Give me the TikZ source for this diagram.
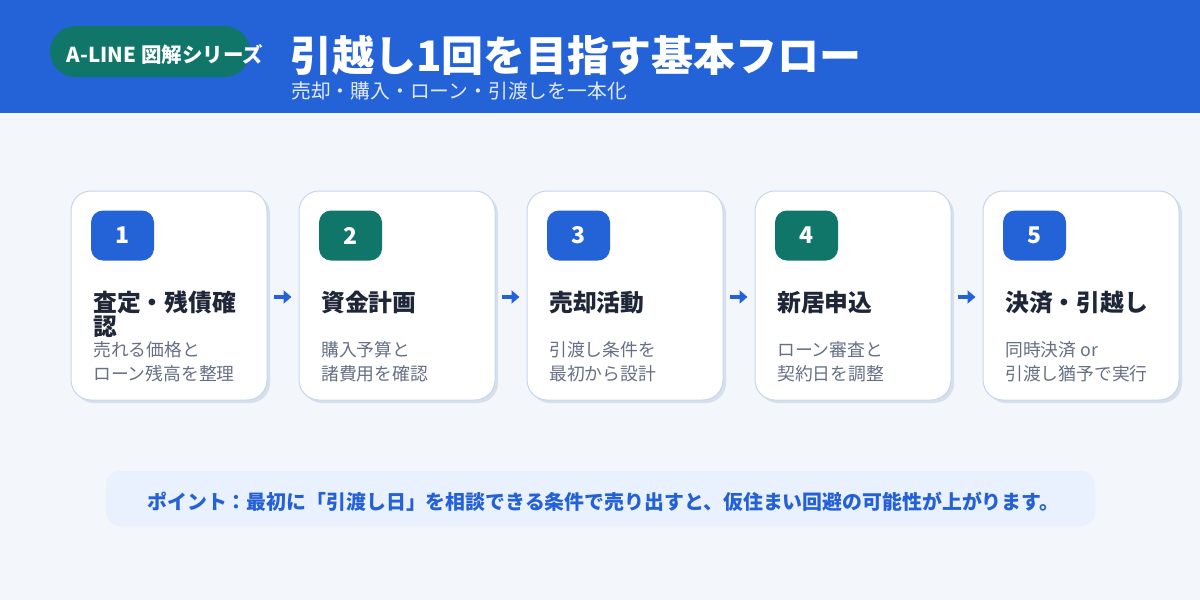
\documentclass[tikz,border=0pt]{standalone}
\usepackage{fontspec}
\setmainfont{Noto Sans CJK JP}
\usetikzlibrary{arrows.meta}
\definecolor{hdr}{HTML}{2462D8}
\definecolor{teal}{HTML}{10766A}
\definecolor{bgc}{HTML}{F3F6FB}
\definecolor{cardline}{HTML}{C9D6EA}
\definecolor{shadowc}{HTML}{D6DFEC}
\definecolor{darktxt}{HTML}{1E2638}
\definecolor{graytxt}{HTML}{667085}
\definecolor{subtxt}{HTML}{E3EBFB}
\definecolor{notefill}{HTML}{E8F1FD}
\definecolor{notetxt}{HTML}{2460D6}
\newcommand{\fsz}[2]{\fontsize{#1}{#2}\selectfont}
\begin{document}
\begin{tikzpicture}[x=1pt,y=-1pt,
  card/.style={draw=cardline, line width=1pt, fill=white, rounded corners=20pt, minimum width=196pt, minimum height=209pt, inner sep=0pt},
  cshadow/.style={fill=shadowc, rounded corners=20pt},
  numbadge/.style={rounded corners=12pt, minimum width=63pt, minimum height=50pt, inner sep=0pt, text=white, font=\fsz{23}{26}\bfseries},
  ctitle/.style={anchor=base west, inner sep=0pt, align=left, text=darktxt, font=\fsz{23.8}{24}\bfseries},
  cdesc/.style={anchor=base west, inner sep=0pt, align=left, text=graytxt, font=\fsz{17.8}{24}\selectfont},
  arr/.style={draw=hdr, line width=3.5pt, -{Triangle[length=8pt,width=13pt]}, shorten <=6pt, shorten >=7pt}
]
\useasboundingbox (0,0) rectangle (1200,600);
\fill[bgc] (0,0) rectangle (1200,600);
\fill[hdr] (0,0) rectangle (1200,113);
\node[fill=teal, rounded corners=25.5pt, minimum width=200pt, minimum height=51pt, inner sep=0pt] (pill) at (150,51.5) {};
\node[text=white, font=\fsz{20.5}{24}\bfseries, inner sep=0pt] (pilltext) at (165,55) {A-LINE 図解シリーズ};
\node[anchor=base west, inner sep=0pt, text=white, font=\fsz{42}{46}\bfseries] (title) at (290,71) {引越し1回を目指す基本フロー};
\node[anchor=base west, inner sep=0pt, text=subtxt, font=\fsz{19.8}{22}\selectfont] (subtitle) at (291,98) {売却・購入・ローン・引渡しを一本化};

\foreach \i/\col/\ty/\ttl/\da/\db in {
  1/hdr/335/{査定・残債確\\認}/売れる価格と/ローン残高を整理,
  2/teal/311/資金計画/購入予算と/諸費用を確認,
  3/hdr/311/売却活動/引渡し条件を/最初から設計,
  4/teal/311/新居申込/ローン審査と/契約日を調整,
  5/hdr/311/決済・引越し/同時決済 or/引渡し猶予で実行}{
  \pgfmathsetmacro{\cx}{169+228*(\i-1)}
  \fill[cshadow] (\cx-98+3,191+3) rectangle (\cx+98+3,400+3);
  \node[card] (c\i) at (\cx,295.5) {};
  \node[numbadge, fill=\col] (b\i) at (\cx-46.5,235.5) {\i};
  \node[ctitle] (t\i) at (\cx-76,\ty) {\ttl};
  \node[cdesc] (da\i) at (\cx-76,356) {\da};
  \node[cdesc] (db\i) at (\cx-76,380) {\db};
}
\foreach \i [evaluate=\i as \j using int(\i+1)] in {1,2,3,4}{
  \draw[arr] ([yshift=-1.5pt]c\i.east) -- ([yshift=-1.5pt]c\j.west);
}
\node[fill=notefill, rounded corners=14pt, minimum width=989pt, minimum height=55pt, inner sep=0pt] (note) at (600.5,498.5) {};
\node[text=notetxt, font=\fsz{19.9}{22}\bfseries, inner sep=0pt] (notetext) at (603.5,502) {ポイント：最初に「引渡し日」を相談できる条件で売り出すと、仮住まい回避の可能性が上がります。};
\end{tikzpicture}
\end{document}
